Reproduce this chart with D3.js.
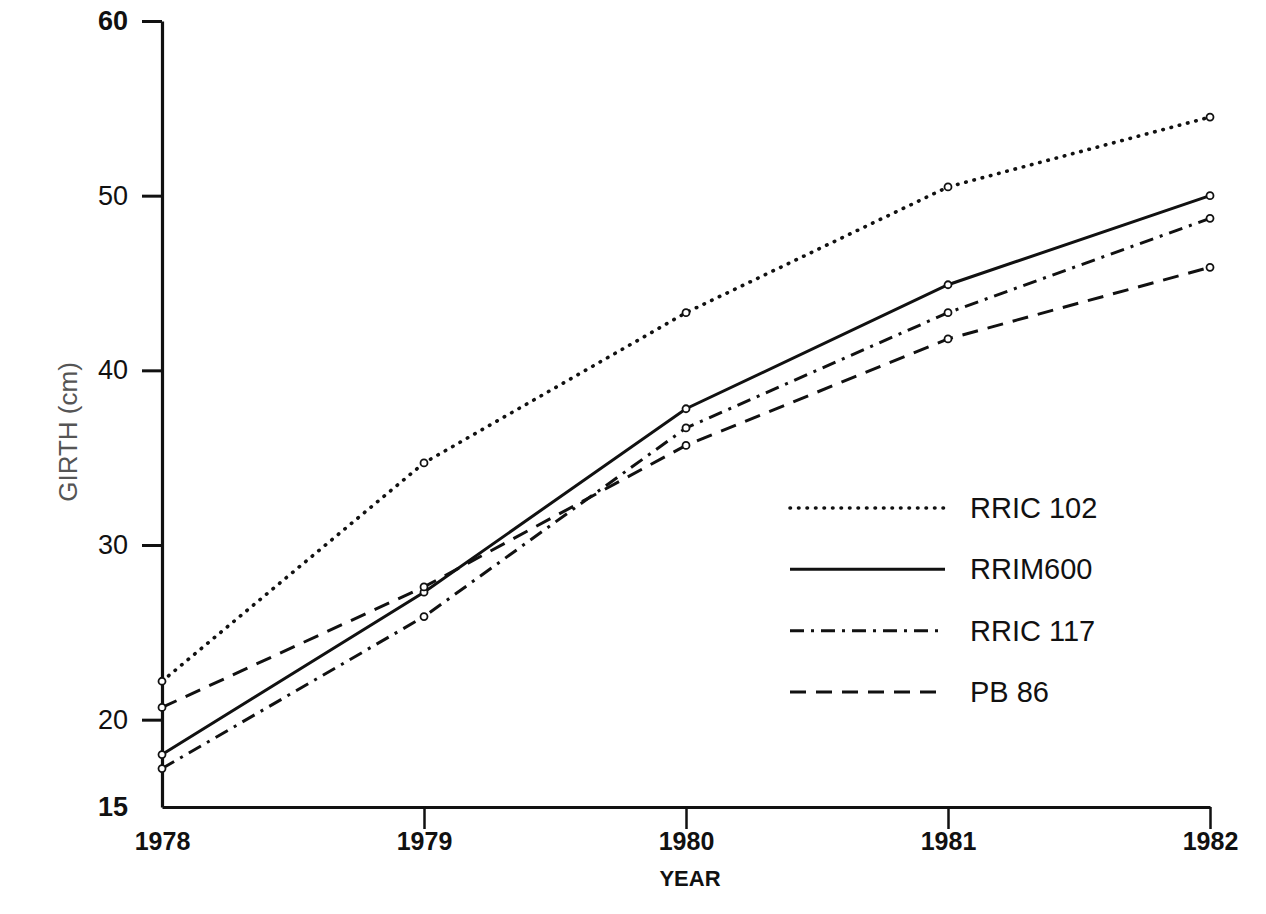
<!DOCTYPE html>
<html>
<head>
<meta charset="utf-8">
<script src="https://cdn.jsdelivr.net/npm/d3@7"></script>
<style>
  body { margin: 0; background: #fff; }
  svg { display: block; }
  text { font-family: "Liberation Sans", Arial, sans-serif; fill: #111; }
</style>
</head>
<body>
<svg id="chart"></svg>
<script>
// values
const years = [1978, 1979, 1980, 1981, 1982];
const rric102 = [22.2, 34.7, 43.3, 50.5, 54.5];
const rrim600 = [18.0, 27.3, 37.8, 44.9, 50.0];
const rric117 = [17.2, 25.9, 36.7, 43.3, 48.7];
const pb86 = [20.7, 27.6, 35.7, 41.8, 45.9];
const yTicks = [15, 20, 30, 40, 50, 60];
const seriesNames = ['RRIC 102', 'RRIM600', 'RRIC 117', 'PB 86'];

const width = 1266, height = 914;
const svg = d3.select('#chart').attr('width', width).attr('height', height);

const x = d3.scaleLinear().domain([1978, 1982]).range([162, 1210]);
const y = d3.scaleLinear().domain([15, 60]).range([807, 21]);

// line styles per series
const styles = [
  {dash: '0.5,8', w: 3.6, cap: 'round'},
  {dash: null, w: 3, cap: 'butt'},
  {dash: '14,7,3,7', w: 3, cap: 'butt'},
  {dash: '16,10', w: 3, cap: 'butt'}
];
const series = [rric102, rrim600, rric117, pb86].map((vals, i) => ({
  name: seriesNames[i],
  style: styles[i],
  points: vals.map((v, j) => ({year: years[j], v: v}))
}));

// y axis
const yAxis = svg.append('g')
    .attr('transform', 'translate(' + x(1978) + ',0)')
    .call(d3.axisLeft(y).tickValues(yTicks).tickSize(20).tickSizeOuter(0).tickPadding(14));
yAxis.select('.domain').attr('stroke', '#111').attr('stroke-width', 3.2);
yAxis.selectAll('.tick line')
    .attr('stroke', '#111').attr('stroke-width', 3)
    .attr('display', d => d === 15 ? 'none' : null);
yAxis.selectAll('.tick text')
    .style('font-size', '27px')
    .style('font-weight', d => (d === 15 || d === 60) ? 'bold' : 'normal')
    .attr('fill', '#111');

// x axis
const xAxis = svg.append('g')
    .attr('transform', 'translate(0,' + y(15) + ')')
    .call(d3.axisBottom(x).tickValues(years).tickSize(22).tickSizeOuter(0)
      .tickPadding(3).tickFormat(d3.format('d')));
xAxis.select('.domain').attr('stroke', '#111').attr('stroke-width', 3.2);
xAxis.selectAll('.tick line')
    .attr('stroke', '#111').attr('stroke-width', 2.5)
    .attr('display', d => d === 1978 ? 'none' : null);
xAxis.selectAll('.tick text')
    .style('font-size', '25px')
    .style('font-weight', 'bold')
    .attr('fill', '#111');

// axis titles
svg.append('text')
    .attr('x', 690).attr('y', 886)
    .attr('text-anchor', 'middle')
    .style('font-size', '22px')
    .style('font-weight', 'bold')
    .text('YEAR');

svg.append('text')
    .attr('transform', 'translate(77,432) rotate(-90)')
    .attr('text-anchor', 'middle')
    .style('font-size', '26px')
    .style('fill', '#555')
    .text('GIRTH (cm)');

// lines
const line = d3.line()
    .x(d => x(d.year))
    .y(d => y(d.v));

const g = svg.append('g');
g.selectAll('path.series')
  .data(series)
  .enter()
  .append('path')
    .attr('class', 'series')
    .attr('fill', 'none')
    .attr('stroke', '#111')
    .attr('stroke-width', d => d.style.w)
    .attr('stroke-dasharray', d => d.style.dash)
    .attr('stroke-linecap', d => d.style.cap)
    .attr('d', d => line(d.points));

// small open markers at the data points
g.selectAll('g.marks')
  .data(series)
  .enter()
  .append('g')
  .selectAll('circle')
  .data(d => d.points)
  .enter()
  .append('circle')
    .attr('cx', d => x(d.year))
    .attr('cy', d => y(d.v))
    .attr('r', 3.5)
    .attr('fill', '#fff')
    .attr('stroke', '#111')
    .attr('stroke-width', 1.8);

// legend
const ly = d3.scalePoint().domain(seriesNames).range([508, 692]);
const legend = svg.append('g');
const items = legend.selectAll('g')
  .data(series)
  .enter()
  .append('g')
    .attr('transform', d => 'translate(0,' + ly(d.name) + ')');
items.append('line')
    .attr('x1', 790).attr('x2', 945)
    .attr('stroke', '#111')
    .attr('stroke-width', d => d.style.w)
    .attr('stroke-dasharray', d => d.style.dash)
    .attr('stroke-linecap', d => d.style.cap);
items.append('text')
    .attr('x', 970).attr('y', 10)
    .style('font-size', '29px')
    .text(d => d.name);
</script>
</body>
</html>
